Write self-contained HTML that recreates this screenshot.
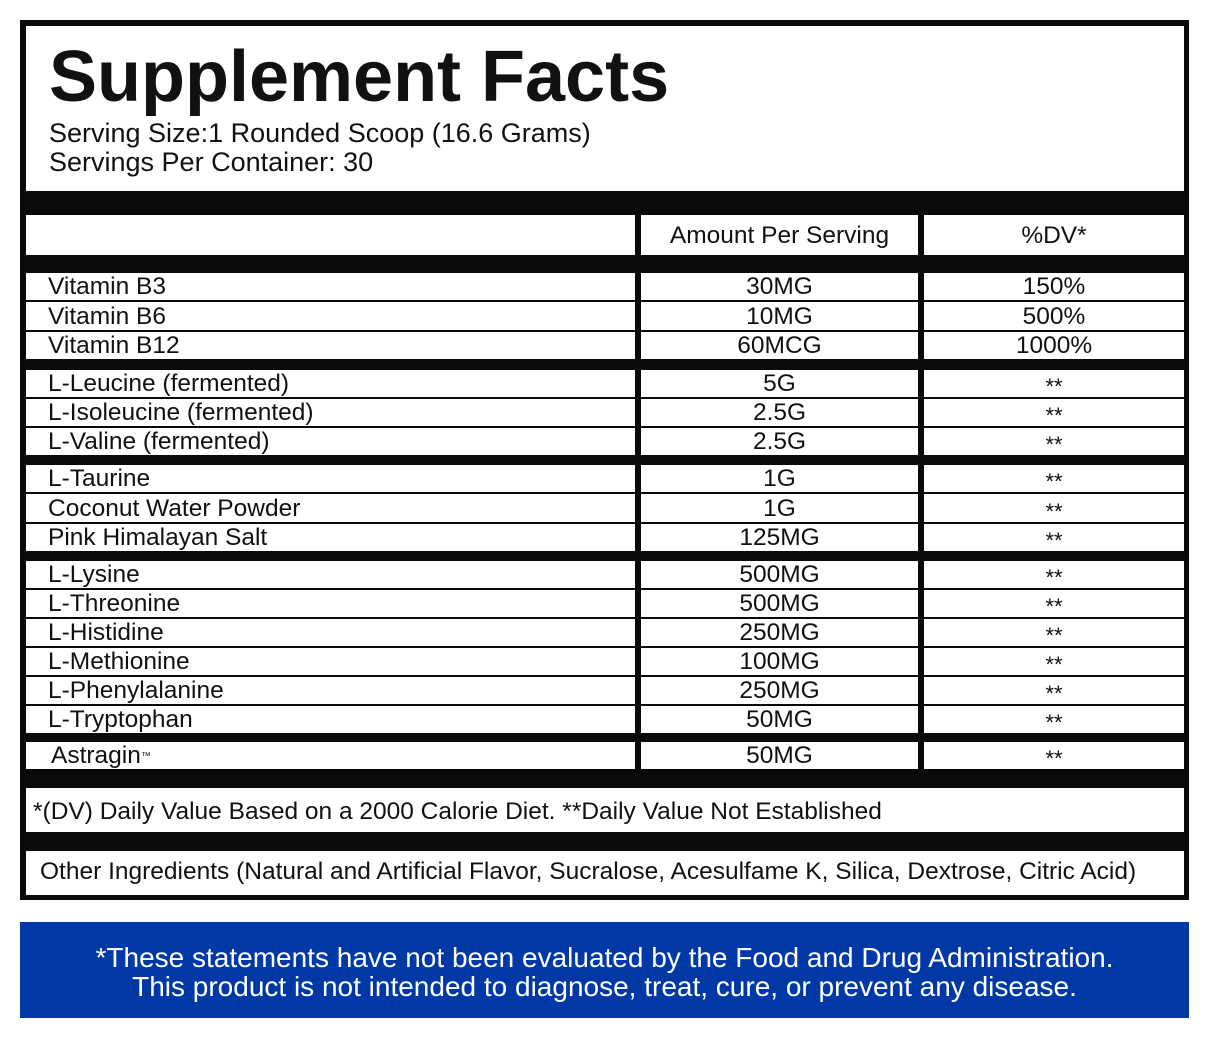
<!DOCTYPE html>
<html><head><meta charset="utf-8"><style>
*{margin:0;padding:0;box-sizing:border-box}
body{width:1209px;height:1048px;background:#fff;position:relative;font-family:"Liberation Sans",sans-serif;color:#111;overflow:hidden}
.box{position:absolute;left:20px;top:20px;width:1169px;height:880px;background:#0a0a0a}
.w{position:absolute;background:#fff}
.g{position:absolute;display:flex;flex-direction:column;gap:2px}
.g div{flex:1 1 0;min-height:0;overflow:hidden;background:#fff;display:flex;align-items:center;font-size:24.5px;line-height:1;padding-top:2px}
.c1{left:26px;width:609px}.c1 div{padding-left:22px}
.c2{left:641px;width:277px}.c2 div,.c3 div{justify-content:center}
.c3{left:924px;width:260px}
.c3 .s{font-size:22px;padding-top:7px}
.blue{position:absolute;left:20px;top:922px;width:1169px;height:96px;background:#0039a6;color:#fff;text-align:center;font-size:28px;line-height:29px;padding-top:21px}
</style></head><body>
<div class="box"></div>
<div class="w" style="left:26px;top:26px;width:1158px;height:165px">
<div style="position:absolute;left:23px;top:14px;font-size:72px;line-height:1.05;font-weight:bold">Supplement Facts</div>
<div style="position:absolute;left:23px;top:93px;font-size:27px;line-height:29px">Serving Size:1 Rounded Scoop (16.6 Grams)<br>Servings Per Container: 30</div>
</div>
<div class="g c1" style="top:215px;height:40px"><div></div></div>
<div class="g c2" style="top:215px;height:40px"><div>Amount Per Serving</div></div>
<div class="g c3" style="top:215px;height:40px"><div>%DV*</div></div>

<div class="g c1" style="top:273px;height:86px"><div>Vitamin B3</div><div>Vitamin B6</div><div>Vitamin B12</div></div>
<div class="g c2" style="top:273px;height:86px"><div>30MG</div><div>10MG</div><div>60MCG</div></div>
<div class="g c3" style="top:273px;height:86px"><div>150%</div><div>500%</div><div>1000%</div></div>

<div class="g c1" style="top:370px;height:85px"><div>L-Leucine (fermented)</div><div>L-Isoleucine (fermented)</div><div>L-Valine (fermented)</div></div>
<div class="g c2" style="top:370px;height:85px"><div>5G</div><div>2.5G</div><div>2.5G</div></div>
<div class="g c3" style="top:370px;height:85px"><div class="s">**</div><div class="s">**</div><div class="s">**</div></div>

<div class="g c1" style="top:465px;height:86px"><div>L-Taurine</div><div>Coconut Water Powder</div><div>Pink Himalayan Salt</div></div>
<div class="g c2" style="top:465px;height:86px"><div>1G</div><div>1G</div><div>125MG</div></div>
<div class="g c3" style="top:465px;height:86px"><div class="s">**</div><div class="s">**</div><div class="s">**</div></div>

<div class="g c1" style="top:561px;height:172px"><div>L-Lysine</div><div>L-Threonine</div><div>L-Histidine</div><div>L-Methionine</div><div>L-Phenylalanine</div><div>L-Tryptophan</div></div>
<div class="g c2" style="top:561px;height:172px"><div>500MG</div><div>500MG</div><div>250MG</div><div>100MG</div><div>250MG</div><div>50MG</div></div>
<div class="g c3" style="top:561px;height:172px"><div class="s">**</div><div class="s">**</div><div class="s">**</div><div class="s">**</div><div class="s">**</div><div class="s">**</div></div>

<div class="g c1" style="top:742px;height:27px"><div style="padding-left:25px">Astragin<sup style="font-size:10px;vertical-align:8px">™</sup></div></div>
<div class="g c2" style="top:742px;height:27px"><div>50MG</div></div>
<div class="g c3" style="top:742px;height:27px"><div class="s">**</div></div>

<div class="w" style="left:26px;top:788px;width:1158px;height:44px;font-size:24.5px;line-height:48px;padding-left:7px">*(DV) Daily Value Based on a 2000 Calorie Diet. **Daily Value Not Established</div>
<div class="w" style="left:26px;top:851px;width:1158px;height:44px;font-size:24.5px;line-height:42px;padding-left:14px">Other Ingredients (Natural and Artificial Flavor, Sucralose, Acesulfame K, Silica, Dextrose, Citric Acid)</div>

<div class="blue">*These statements have not been evaluated by the Food and Drug Administration.<br>This product is not intended to diagnose, treat, cure, or prevent any disease.</div>
</body></html>
